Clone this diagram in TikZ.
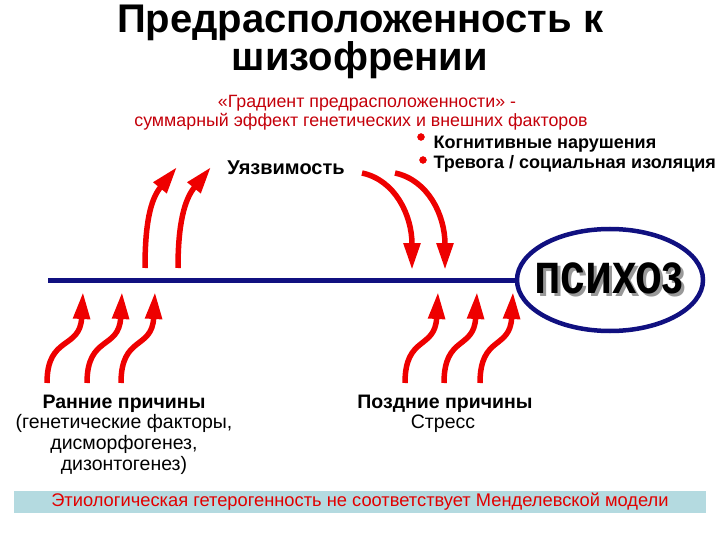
\documentclass[tikz,border=0pt]{standalone}
\usepackage{fontspec}
\setmainfont{Liberation Sans}
\usepackage{xcolor}
\usepackage{tikz}
\usetikzlibrary{arrows.meta,shapes.geometric}

\definecolor{arrowred}{RGB}{238,0,0}
\definecolor{navyline}{RGB}{16,16,128}
\definecolor{subred}{RGB}{196,0,10}
\definecolor{barblue}{RGB}{180,218,224}
\definecolor{barred}{RGB}{226,0,0}

\begin{document}
\begin{tikzpicture}[x=1pt,y=-1pt,
        cause/.style={draw=arrowred, line width=5.5pt, -{Triangle[length=27pt,width=16pt]}},
        axis/.style={draw=navyline, line width=5pt},
        heading/.style={font=\bfseries\fontsize{40}{44}\selectfont, anchor=base},
        subtitle/.style={font=\fontsize{17.8}{20}\selectfont, text=subred, anchor=base},
        label/.style={font=\fontsize{19.5}{22}\selectfont, anchor=base},
        strong/.style={font=\bfseries\fontsize{19.5}{22}\selectfont, anchor=base}]
        \useasboundingbox (0, 0) rectangle (720, 540);

        \node[heading] (title1) at (360, 33) {Предрасположенность к};
        \node[heading] (title2) at (360, 71) {шизофрении};

        \node[subtitle] (grad1) at (367, 108) {«Градиент предрасположенности» -};
        \node[subtitle] (grad2) at (361, 127) {суммарный эффект генетических и внешних факторов};

        \filldraw[arrowred] (421, 137) circle (3.5pt);
        \filldraw[arrowred] (423, 160) circle (3.5pt);
        \node[strong, font=\bfseries\fontsize{18}{20}\selectfont, anchor=base west] (cogn) at (430, 149) {Когнитивные нарушения};
        \node[strong, font=\bfseries\fontsize{18}{20}\selectfont, anchor=base west] (anx) at (430, 169) {Тревога / социальная изоляция};

        \node[strong, font=\bfseries\fontsize{20}{22}\selectfont] (vuln) at (286, 175) {Уязвимость};

        \node[ellipse, draw=navyline, line width=4.5pt, minimum width=186pt, minimum height=102pt] (psychosis) at (610, 280) {};
        \node[text=black!40, font=\bfseries\fontsize{44}{48}\selectfont, yscale=1.3] (psyshadow) at (612, 281) {психоз};
        \node[font=\bfseries\fontsize{44}{48}\selectfont, yscale=1.3] (psytext) at (609, 278) {психоз};

        \coordinate (axisstart) at (48, 280);
        \draw[axis] (axisstart) -- (psychosis.west);

        \draw[cause] (145, 268) .. controls (145, 225) and (150, 200) .. (177, 167);
        \draw[cause] (178, 268) .. controls (178, 225) and (184, 200) .. (211, 167);

        \draw[cause] (362, 173) .. controls (395, 180) and (412, 215) .. (412, 270);
        \draw[cause] (395, 173) .. controls (428, 180) and (445, 215) .. (445, 270);

        \draw[cause] (47, 383) .. controls (47, 335) and (80, 350) .. (83, 292);
        \draw[cause] (87, 383) .. controls (87, 335) and (119, 350) .. (122, 292);
        \draw[cause] (121, 383) .. controls (121, 335) and (152, 350) .. (155, 292);

        \draw[cause] (405, 383) .. controls (405, 335) and (435, 350) .. (438, 292);
        \draw[cause] (444, 383) .. controls (444, 335) and (474, 350) .. (477, 292);
        \draw[cause] (480, 383) .. controls (480, 335) and (510, 350) .. (513, 292);

        \node[strong] (early1) at (124, 408) {Ранние причины};
        \node[label] (early2) at (124, 428) {(генетические факторы,};
        \node[label] (early3) at (124, 449) {дисморфогенез,};
        \node[label] (early4) at (124, 470) {дизонтогенез)};

        \node[strong] (late1) at (445, 408) {Поздние причины};
        \node[label] (late2) at (443, 428) {Стресс};

        \node[fill=barblue, minimum width=692pt, minimum height=22pt, inner sep=0pt, text=barred,
            font=\fontsize{18.3}{20}\selectfont] (verdict) at (360, 502) {Этиологическая гетерогенность не соответствует Менделевской модели};
    \end{tikzpicture}
\end{document}
